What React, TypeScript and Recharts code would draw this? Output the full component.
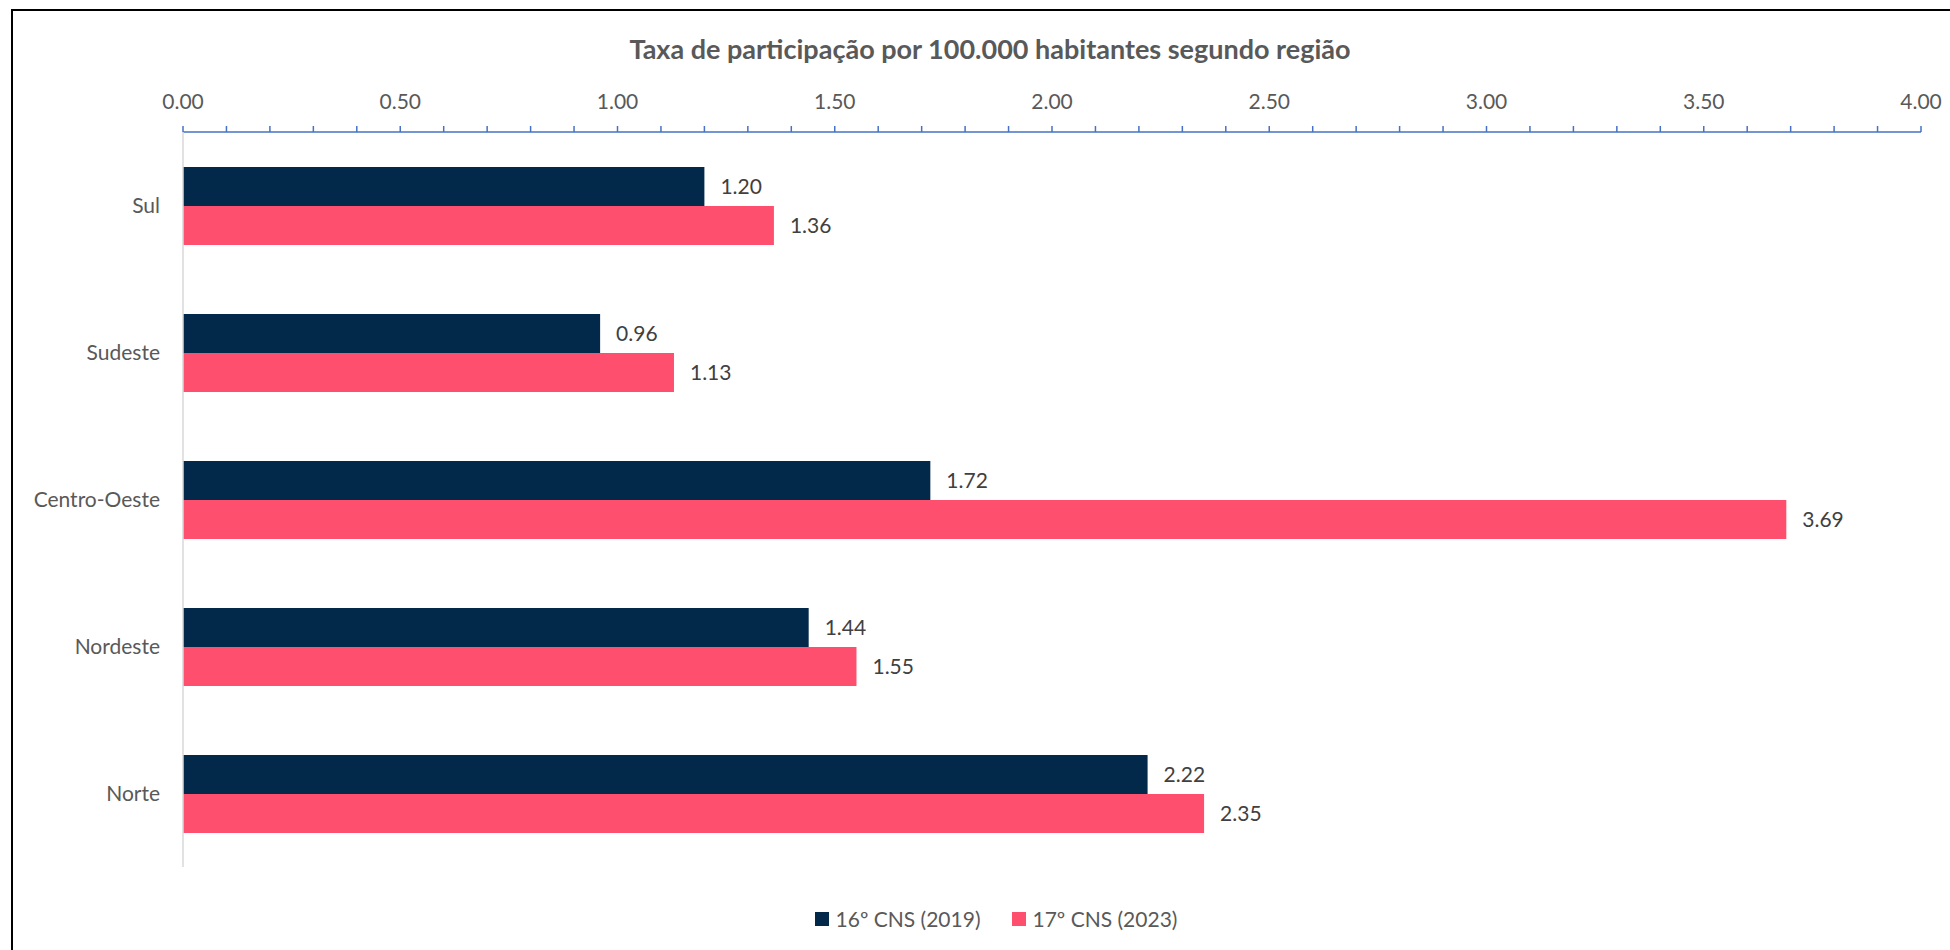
import React from 'react';
import { BarChart, Bar, XAxis, YAxis, LabelList } from 'recharts';

const REGIONS = ['Sul', 'Sudeste', 'Centro-Oeste', 'Nordeste', 'Norte'];
const CNS_2019 = [1.2, 0.96, 1.72, 1.44, 2.22];
const CNS_2023 = [1.36, 1.13, 3.69, 1.55, 2.35];

// minor ticks every 0.1, labels only every 0.5
const X_TICKS = [
  0, 0.1, 0.2, 0.3, 0.4, 0.5, 0.6, 0.7, 0.8, 0.9, 1, 1.1, 1.2, 1.3, 1.4, 1.5, 1.6, 1.7, 1.8, 1.9, 2,
  2.1, 2.2, 2.3, 2.4, 2.5, 2.6, 2.7, 2.8, 2.9, 3, 3.1, 3.2, 3.3, 3.4, 3.5, 3.6, 3.7, 3.8, 3.9, 4,
];
const X_LABELS = [0, 0.5, 1, 1.5, 2, 2.5, 3, 3.5, 4];

const SERIES = [
  { key: 'v2019', name: '16º CNS (2019)', color: '#03294a' },
  { key: 'v2023', name: '17º CNS (2023)', color: '#ff4f6e' },
];

const FONT = 'Lato, "Noto Sans", sans-serif';
const TEXT_GRAY = '#595959';

const data = REGIONS.map((region, i) => ({
  region,
  v2019: CNS_2019[i],
  v2023: CNS_2023[i],
}));

function TopTick(props: any) {
  const { x, y, payload } = props;
  const v = payload.value;
  if (!X_LABELS.some((l) => Math.abs(l - v) < 1e-9)) return null;
  return (
    <text x={x} y={y} textAnchor="middle" fill={TEXT_GRAY} fontSize={21} fontFamily={FONT}>
      {v.toFixed(2)}
    </text>
  );
}

export default function App() {
  return (
    <div
      style={{
        position: 'absolute',
        left: 0,
        top: 0,
        width: 1950,
        height: 950,
        overflow: 'hidden',
        background: '#fff',
        fontFamily: FONT,
      }}
    >
      {/* chart frame, cut off on the right and bottom like the source */}
      <div
        style={{
          position: 'absolute',
          left: 11,
          top: 9,
          width: 1960,
          height: 980,
          border: '2px solid #000',
        }}
      />
      <div
        style={{
          position: 'absolute',
          left: 0,
          width: 1980,
          top: 33,
          textAlign: 'center',
          fontSize: 27,
          fontWeight: 700,
          color: TEXT_GRAY,
          lineHeight: '32px',
        }}
      >
        Taxa de participação por 100.000 habitantes segundo região
      </div>

      <div style={{ position: 'absolute', left: 0, top: 0 }}>
        <BarChart
          width={1950}
          height={950}
          data={data}
          layout="vertical"
          margin={{ top: 92, right: 29, bottom: 83, left: 0 }}
          barCategoryGap={35}
          barGap={0}
        >
          <XAxis
            type="number"
            orientation="top"
            domain={[0, 4]}
            ticks={X_TICKS}
            interval={0}
            height={40}
            axisLine={{ stroke: '#4472c4', strokeWidth: 1.5 }}
            tickLine={{ stroke: '#4472c4', strokeWidth: 1.5 }}
            tickSize={6}
            tickMargin={17}
            tick={<TopTick />}
          />
          <YAxis
            type="category"
            dataKey="region"
            width={183}
            axisLine={{ stroke: '#d9d9d9', strokeWidth: 1.5 }}
            tickLine={false}
            tickSize={0}
            tickMargin={23}
            tick={{ fill: TEXT_GRAY, fontSize: 21, fontFamily: FONT }}
          />
          {SERIES.map((s) => (
            <Bar key={s.key} dataKey={s.key} name={s.name} fill={s.color} isAnimationActive={false}>
              <LabelList
                dataKey={s.key}
                position="right"
                offset={16}
                fill="#404040"
                fontSize={21}
                fontFamily={FONT}
                formatter={(v: any) => Number(v).toFixed(2)}
              />
            </Bar>
          ))}
        </BarChart>
      </div>

      {/* legend */}
      <div
        style={{
          position: 'absolute',
          left: 0,
          width: 1992,
          top: 905,
          display: 'flex',
          justifyContent: 'center',
          alignItems: 'center',
          gap: 31,
          fontSize: 21,
          color: TEXT_GRAY,
          lineHeight: '28px',
        }}
      >
        {SERIES.map((s) => (
          <div key={s.key} style={{ display: 'flex', alignItems: 'center', gap: 7 }}>
            <span style={{ display: 'inline-block', width: 14, height: 14, background: s.color }} />
            <span>{s.name}</span>
          </div>
        ))}
      </div>
    </div>
  );
}
